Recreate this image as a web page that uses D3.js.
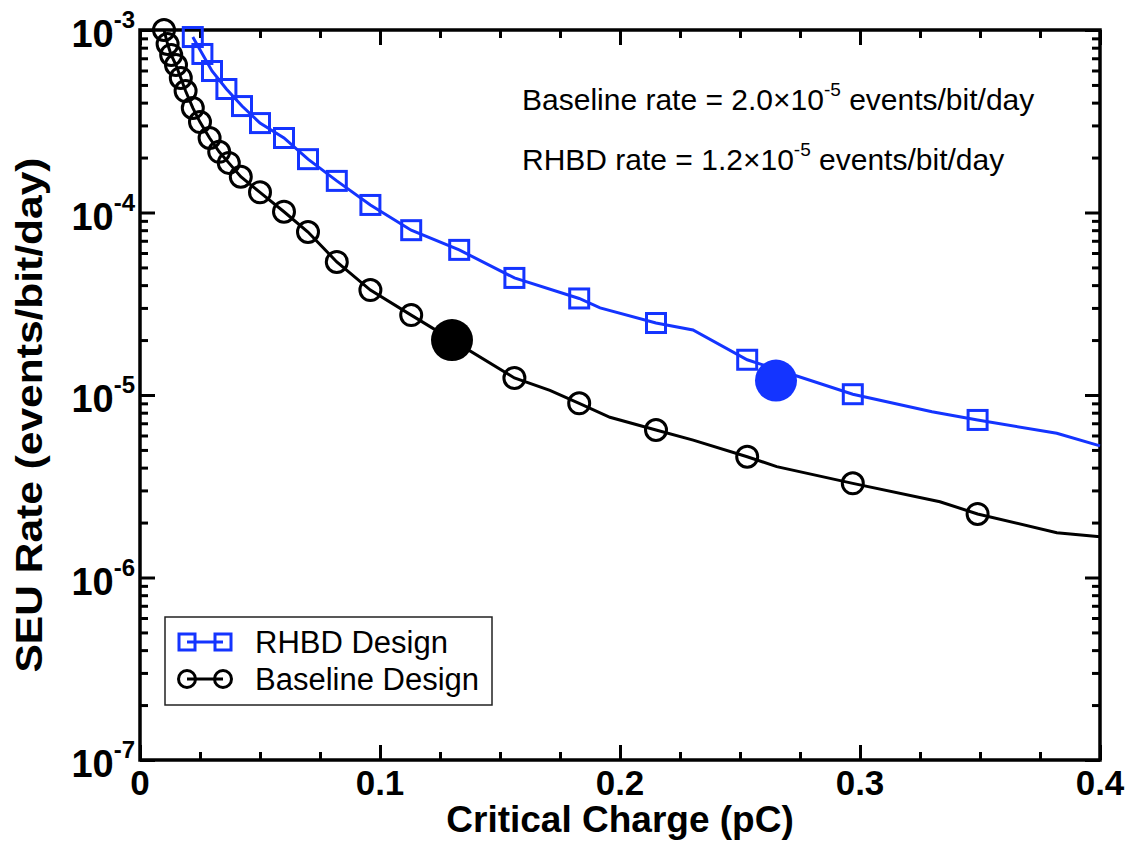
<!DOCTYPE html>
<html>
<head>
<meta charset="utf-8">
<script src="https://d3js.org/d3.v7.min.js"></script>
<style>
  body { margin: 0; background: #fff; }
  text { font-family: "Liberation Sans", Arial, Helvetica, sans-serif; }
</style>
</head>
<body>
<div id="graph"></div>
<script>
// data
var xTicks = [0, 0.1, 0.2, 0.3, 0.4];
var xTickLabels = ["0", "0.1", "0.2", "0.3", "0.4"];
var yExponents = [-3, -4, -5, -6, -7];

// RHBD design (squares)
var rhbdQ    = [0.022, 0.026, 0.030, 0.036, 0.0425, 0.050, 0.060, 0.070, 0.082, 0.096, 0.113, 0.133, 0.156, 0.183, 0.215, 0.253, 0.297, 0.349];
var rhbdRate = [9.15e-4, 7.39e-4, 5.96e-4, 4.75e-4, 3.83e-4, 3.09e-4, 2.56e-4, 1.96e-4, 1.49e-4, 1.10e-4, 8.0e-5, 6.24e-5, 4.38e-5, 3.38e-5, 2.48e-5, 1.56e-5, 1.01e-5, 7.3e-6];
// points on the RHBD curve without a marker
var rhbdLineQ    = [0.1917, 0.2304, 0.330, 0.382, 0.400];
var rhbdLineRate = [3.0e-5, 2.27e-5, 8.1e-6, 6.17e-6, 5.26e-6];

// Baseline design (circles)
var baseQ    = [0.010, 0.0115, 0.013, 0.015, 0.017, 0.019, 0.022, 0.025, 0.029, 0.033, 0.037, 0.042, 0.050, 0.060, 0.070, 0.082, 0.096, 0.113, 0.156, 0.183, 0.215, 0.253, 0.297, 0.349];
var baseRate = [1.0e-3, 8.38e-4, 7.30e-4, 6.43e-4, 5.46e-4, 4.63e-4, 3.74e-4, 3.13e-4, 2.56e-4, 2.15e-4, 1.87e-4, 1.57e-4, 1.29e-4, 1.01e-4, 7.82e-5, 5.36e-5, 3.76e-5, 2.74e-5, 1.24e-5, 9.0e-6, 6.43e-6, 4.59e-6, 3.28e-6, 2.23e-6];
var baseLineQ    = [0.1708, 0.1958, 0.2305, 0.2653, 0.3333, 0.382, 0.400];
var baseLineRate = [1.06e-5, 7.55e-6, 5.66e-6, 4.05e-6, 2.60e-6, 1.76e-6, 1.67e-6];

// the two design points (filled)
var designQ    = [0.130, 0.265];
var designRate = [2.0e-5, 1.2e-5];
var designColor = ["#000", "#1434ff"];

var blue = "#1434ff";

var margin = {top: 30, right: 39, bottom: 82, left: 140},
    width = 1139 - margin.left - margin.right,
    height = 842 - margin.top - margin.bottom;

var svg = d3.select("#graph").append("svg")
    .attr("width", 1139)
    .attr("height", 842)
  .append("g")
    .attr("transform", "translate(" + margin.left + "," + margin.top + ")");

var xScale = d3.scaleLinear().domain([0, 0.4]).range([0, width]);
var yScale = d3.scaleLog().domain([1e-7, 1e-3]).range([height, 0]);

// ticks, all pointing inward
var xMinor = d3.range(0, 0.4001, 0.025);
var yMinor = [];
d3.range(-7, -3).forEach(function(e) {
  d3.range(2, 10).forEach(function(k) { yMinor.push(k * Math.pow(10, e)); });
});
var yMajor = yExponents.map(function(e) { return Math.pow(10, e); });

function tickAxis(axisFn, scale, values, size) {
  return axisFn(scale).tickValues(values).tickSize(-size).tickFormat("");
}

var axes = [
  {fn: d3.axisBottom, s: xScale, t: "translate(0," + height + ")", minor: xMinor, major: xTicks},
  {fn: d3.axisTop,    s: xScale, t: "translate(0,0)",              minor: xMinor, major: xTicks},
  {fn: d3.axisLeft,   s: yScale, t: "translate(0,0)",              minor: yMinor, major: yMajor},
  {fn: d3.axisRight,  s: yScale, t: "translate(" + width + ",0)",  minor: yMinor, major: yMajor}
];
axes.forEach(function(a) {
  svg.append("g").attr("transform", a.t).call(tickAxis(a.fn, a.s, a.minor, 8));
  svg.append("g").attr("transform", a.t).call(tickAxis(a.fn, a.s, a.major, 15));
});
svg.selectAll(".domain").remove();
svg.selectAll(".tick line").attr("stroke", "#000").attr("stroke-width", 3);

// frame
svg.append("rect")
    .attr("width", width).attr("height", height)
    .attr("fill", "none").attr("stroke", "#000").attr("stroke-width", 3.5);

// x tick labels
svg.selectAll(".xlab")
    .data(xTicks)
  .enter().append("text")
    .attr("x", function(d) { return xScale(d); })
    .attr("y", height + 35)
    .attr("text-anchor", "middle")
    .style("font-size", "35px").style("font-weight", "bold")
    .text(function(d, i) { return xTickLabels[i]; });

// y tick labels 10^n
var ylab = svg.selectAll(".ylab")
    .data(yExponents)
  .enter().append("text")
    .attr("x", -5)
    .attr("y", function(d) { return yScale(Math.pow(10, d)) + 17; })
    .attr("text-anchor", "end")
    .style("font-size", "38px").style("font-weight", "bold");
ylab.append("tspan").text("10");
ylab.append("tspan").attr("dy", -19).style("font-size", "24px").text(function(d) { return "-" + Math.abs(d); });

// axis titles
svg.append("text")
    .attr("x", width / 2)
    .attr("y", height + 72)
    .attr("text-anchor", "middle")
    .style("font-size", "37px").style("font-weight", "bold")
    .text("Critical Charge (pC)");

svg.append("text")
    .attr("transform", "rotate(-90)")
    .attr("x", -385)
    .attr("y", -98)
    .attr("text-anchor", "middle")
    .attr("textLength", 515)
    .attr("lengthAdjust", "spacingAndGlyphs")
    .style("font-size", "36px").style("font-weight", "bold")
    .text("SEU Rate (events/bit/day)");

// curves
function mergePts(q, r, q2, r2) {
  var pts = q.map(function(d, i) { return {q: d, r: r[i]}; })
    .concat(q2.map(function(d, i) { return {q: d, r: r2[i]}; }));
  return pts.sort(function(a, b) { return a.q - b.q; });
}

var line = d3.line()
    .x(function(d) { return xScale(d.q); })
    .y(function(d) { return yScale(d.r); });

svg.append("path")
    .datum(mergePts(baseQ, baseRate, baseLineQ, baseLineRate))
    .attr("fill", "none").attr("stroke", "#000").attr("stroke-width", 3)
    .attr("d", line);

svg.append("path")
    .datum(mergePts(rhbdQ, rhbdRate, rhbdLineQ, rhbdLineRate))
    .attr("fill", "none").attr("stroke", blue).attr("stroke-width", 3)
    .attr("d", line);

// markers
svg.selectAll(".circ")
    .data(baseQ)
  .enter().append("circle")
    .attr("cx", function(d) { return xScale(d); })
    .attr("cy", function(d, i) { return yScale(baseRate[i]); })
    .attr("r", 10.5)
    .attr("fill", "none").attr("stroke", "#000").attr("stroke-width", 3);

svg.selectAll(".sq")
    .data(rhbdQ)
  .enter().append("rect")
    .attr("x", function(d) { return xScale(d) - 9.5; })
    .attr("y", function(d, i) { return yScale(rhbdRate[i]) - 9.5; })
    .attr("width", 19).attr("height", 19)
    .attr("fill", "none").attr("stroke", blue).attr("stroke-width", 3);

svg.selectAll(".design")
    .data(designQ)
  .enter().append("circle")
    .attr("cx", function(d) { return xScale(d); })
    .attr("cy", function(d, i) { return yScale(designRate[i]); })
    .attr("r", 21)
    .attr("fill", function(d, i) { return designColor[i]; });

// rate annotations
var notes = [
  {label: "Baseline rate = 2.0\u00d710", exp: "-5", y: 80},
  {label: "RHBD rate = 1.2\u00d710", exp: "-5", y: 140}
];
notes.forEach(function(n) {
  var t = svg.append("text")
      .attr("x", 382).attr("y", n.y)
      .style("font-size", "30px");
  t.append("tspan").text(n.label);
  t.append("tspan").attr("dy", -14).style("font-size", "19px").text(n.exp);
  t.append("tspan").attr("dy", 14).text(" events/bit/day");
});

// legend
var lg = svg.append("g").attr("transform", "translate(25,587)");
lg.append("rect")
    .attr("width", 327).attr("height", 88)
    .attr("fill", "#fff").attr("stroke", "#222").attr("stroke-width", 1.5);

var legendItems = [
  {name: "RHBD Design", color: blue, shape: "square", y: 25},
  {name: "Baseline Design", color: "#000", shape: "circle", y: 62}
];
legendItems.forEach(function(it) {
  lg.append("line")
      .attr("x1", 22).attr("x2", 58).attr("y1", it.y).attr("y2", it.y)
      .attr("stroke", it.color).attr("stroke-width", 3);
  [22, 58].forEach(function(cx) {
    if (it.shape === "square") {
      lg.append("rect").attr("x", cx - 8).attr("y", it.y - 8)
          .attr("width", 16).attr("height", 16)
          .attr("fill", "none").attr("stroke", it.color).attr("stroke-width", 3);
    } else {
      lg.append("circle").attr("cx", cx).attr("cy", it.y).attr("r", 8.5)
          .attr("fill", "none").attr("stroke", it.color).attr("stroke-width", 3);
    }
  });
  lg.append("text")
      .attr("x", 90).attr("y", it.y + 11)
      .style("font-size", "31px")
      .text(it.name);
});
</script>
</body>
</html>
